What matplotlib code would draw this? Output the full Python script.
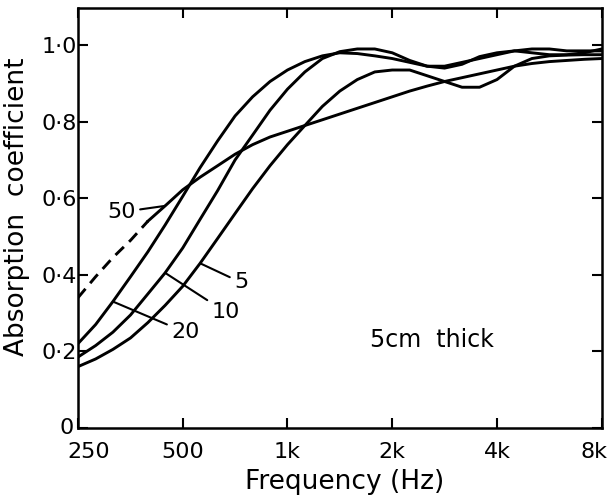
"""Absorption coefficient vs frequency for a 5 cm thick absorber at several spacings (5, 10, 20, 50)."""
import matplotlib
matplotlib.use("Agg")
import matplotlib.pyplot as plt
from matplotlib.transforms import ScaledTranslation

# sixth-octave frequency points, 250 Hz .. 8 kHz
FREQ = [250, 281, 315, 354, 397, 445, 500, 561, 630, 707, 794, 891, 1000, 1122, 1260, 1414,
        1587, 1782, 2000, 2245, 2520, 2828, 3175, 3564, 4000, 4490, 5040, 5657, 6350, 7127, 8000]

ALPHA_5 = [0.16, 0.18, 0.205, 0.235, 0.275, 0.32, 0.37, 0.43, 0.495, 0.56, 0.625, 0.685, 0.74,
           0.79, 0.84, 0.88, 0.91, 0.93, 0.935, 0.935, 0.92, 0.905, 0.89, 0.89, 0.91, 0.945,
           0.965, 0.972, 0.974, 0.975, 0.975]
ALPHA_10 = [0.185, 0.215, 0.25, 0.295, 0.35, 0.405, 0.47, 0.545, 0.62, 0.70, 0.765, 0.83, 0.885,
            0.93, 0.965, 0.983, 0.99, 0.99, 0.98, 0.96, 0.945, 0.94, 0.95, 0.97, 0.98, 0.985,
            0.98, 0.975, 0.975, 0.98, 0.99]
ALPHA_20 = [0.22, 0.27, 0.33, 0.395, 0.46, 0.53, 0.605, 0.68, 0.75, 0.815, 0.865, 0.905, 0.935,
            0.957, 0.972, 0.98, 0.978, 0.972, 0.965, 0.955, 0.945, 0.945, 0.955, 0.965, 0.975,
            0.985, 0.99, 0.99, 0.985, 0.985, 0.985]
ALPHA_50 = [0.34, 0.395, 0.445, 0.49, 0.54, 0.58, 0.622, 0.655, 0.685, 0.715, 0.74, 0.76, 0.775,
            0.79, 0.805, 0.82, 0.835, 0.85, 0.865, 0.88, 0.893, 0.905, 0.915, 0.925, 0.935,
            0.945, 0.952, 0.957, 0.96, 0.963, 0.965]
DASH_END = 4  # 50-curve is dashed up to this index (~400 Hz)

XTICKS = [250, 500, 1000, 2000, 4000, 8000]
XTICK_LABELS = ["250", "500", "1k", "2k", "4k", "8k"]
YTICKS = [0, 0.2, 0.4, 0.6, 0.8, 1.0]
YTICK_LABELS = ["0", "0·2", "0·4", "0·6", "0·8", "1·0"]

# (label, series, index of point the leader touches, text position in data coords)
LABELS = [("5", ALPHA_5, 7, (735, 0.38)),
          ("10", ALPHA_10, 5, (663, 0.303)),
          ("20", ALPHA_20, 2, (508, 0.25)),
          ("50", ALPHA_50, 5, (334, 0.564))]


def main():
    plt.rcParams["font.family"] = "DejaVu Sans"
    fig = plt.figure(figsize=(6.14, 5.01), dpi=100)
    ax = fig.add_axes([0.127, 0.146, 0.853, 0.838])
    lw = 2.1
    ax.plot(FREQ, ALPHA_5, color="black", lw=lw)
    ax.plot(FREQ, ALPHA_10, color="black", lw=lw)
    ax.plot(FREQ, ALPHA_20, color="black", lw=lw)
    ax.plot(FREQ[:DASH_END + 1], ALPHA_50[:DASH_END + 1], color="black", lw=lw, ls=(0, (4, 2.5)))
    ax.plot(FREQ[DASH_END:], ALPHA_50[DASH_END:], color="black", lw=lw)

    for txt, ser, k, pos in LABELS:
        ax.annotate(txt, xy=(FREQ[k], ser[k]), xytext=pos, ha="center", va="center",
                    fontsize=16, arrowprops=dict(arrowstyle="-", lw=1.5, color="black",
                                                 shrinkA=1, shrinkB=0))
    ax.text(2600, 0.23, "5cm  thick", ha="center", va="center", fontsize=17)

    ax.set_xscale("log")
    ax.set_xlim(250, 8000)
    ax.set_ylim(0, 1.097)
    ax.set_xticks(XTICKS)
    ax.set_xticklabels(XTICK_LABELS)
    ax.minorticks_off()
    ax.set_yticks(YTICKS)
    ax.set_yticklabels(YTICK_LABELS)
    ax.tick_params(axis="both", which="major", direction="in", length=7, width=1.5,
                   labelsize=16, top=True, right=True)
    ax.tick_params(axis="x", pad=10)
    ax.tick_params(axis="y", pad=1)
    # end labels sit inside the axis ends, as in the original print
    xl = ax.get_xticklabels()
    xl[0].set_transform(xl[0].get_transform() + ScaledTranslation(0.11, 0, fig.dpi_scale_trans))
    xl[-1].set_transform(xl[-1].get_transform() + ScaledTranslation(-0.08, 0, fig.dpi_scale_trans))
    yl = ax.get_yticklabels()
    yl[0].set_transform(yl[0].get_transform() + ScaledTranslation(-0.03, 0.02, fig.dpi_scale_trans))
    for sp in ax.spines.values():
        sp.set_linewidth(1.8)
    ax.set_xlabel("Frequency (Hz)", fontsize=19)
    ax.xaxis.set_label_coords(0.51, -0.098)
    ax.set_ylabel("Absorption  coefficient", fontsize=19)
    ax.yaxis.set_label_coords(-0.092, 0.526)
    fig.savefig("out.png", dpi=100)


if __name__ == "__main__":
    main()
